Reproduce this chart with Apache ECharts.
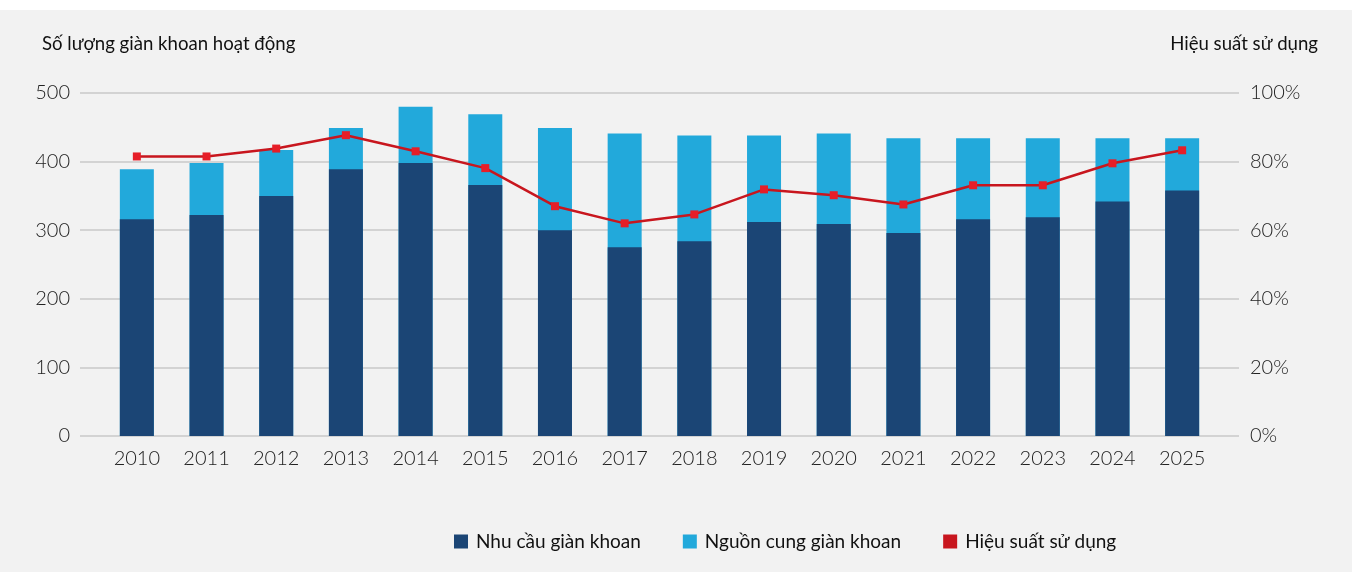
<!DOCTYPE html>
<html>
<head>
<meta charset="utf-8">
<script src="https://cdn.jsdelivr.net/npm/echarts@6/dist/echarts.min.js"></script>
<style>
  html, body { margin: 0; padding: 0; background: #f2f2f2; }
  #chart { width: 1352px; height: 572px; }
</style>
</head>
<body>
<div id="chart"></div>
<script>
// Rig counts (left axis) and utilisation rate (right axis), 2010-2025
const years = ['2010','2011','2012','2013','2014','2015','2016','2017','2018','2019','2020','2021','2022','2023','2024','2025'];
const demand = [316, 322, 350, 389, 398, 366, 300, 275, 284, 312, 309, 296, 316, 319, 342, 358];
const supply = [389, 398, 417, 449, 480, 469, 449, 441, 438, 438, 441, 434, 434, 434, 434, 434];
const utilisation = [81.5, 81.5, 83.8, 87.7, 83.0, 78.1, 67.0, 62.0, 64.6, 71.9, 70.2, 67.5, 73.1, 73.1, 79.5, 83.3];
const countTicks = [0, 100, 200, 300, 400, 500];
const rateTicks = [0, 20, 40, 60, 80, 100];

const FONT = 'Lato, "Noto Sans", sans-serif';
const chart = echarts.init(document.getElementById('chart'), null, { renderer: 'canvas' });

const tickStyle = { fontFamily: FONT, fontSize: 20, fontWeight: 300, color: '#222222' };

chart.setOption({
  backgroundColor: '#f2f2f2',
  animation: false,
  graphic: [
    { type: 'rect', left: 0, top: 0, shape: { width: 1352, height: 10 }, style: { fill: '#ffffff' }, silent: true },
    { type: 'text', left: 42, top: 34, style: { text: 'Số lượng giàn khoan hoạt động', font: '18.6px ' + FONT, fill: '#111111' } },
    { type: 'text', right: 34, top: 34, style: { text: 'Hiệu suất sử dụng', font: '18.6px ' + FONT, fill: '#111111', textAlign: 'right' } }
  ],
  legend: {
    left: 449,
    top: 527,
    itemWidth: 14,
    itemHeight: 14,
    itemGap: 42,
    icon: 'rect',
    textStyle: { fontFamily: FONT, fontSize: 19, color: '#111111', padding: [0, 0, 0, 3] },
    data: [
      { name: 'Nhu cầu giàn khoan', itemStyle: { color: '#1b4575' } },
      { name: 'Nguồn cung giàn khoan', itemStyle: { color: '#22a9db' } },
      { name: 'Hiệu suất sử dụng', itemStyle: { color: '#c8161e' } }
    ]
  },
  grid: [
    { left: 80, right: 113, top: 93, bottom: 136 },
    { left: 102, right: 135, top: 93, bottom: 136 }
  ],
  xAxis: [
    { gridIndex: 0, type: 'category', data: [''], show: false },
    {
      gridIndex: 1, type: 'category', data: years,
      axisLine: { show: false }, axisTick: { show: false },
      axisLabel: Object.assign({ margin: 13 }, tickStyle)
    }
  ],
  yAxis: [
    {
      gridIndex: 0, type: 'value', min: countTicks[0], max: countTicks[countTicks.length - 1], interval: 100,
      position: 'left',
      axisLine: { show: false }, axisTick: { show: false },
      axisLabel: Object.assign({ margin: 10 }, tickStyle),
      splitLine: { lineStyle: { color: '#c8c8c8', width: 1.5 } }
    },
    {
      gridIndex: 0, type: 'value', min: rateTicks[0], max: rateTicks[rateTicks.length - 1], interval: 20,
      position: 'right',
      axisLine: { show: false }, axisTick: { show: false },
      axisLabel: Object.assign({ margin: 11, formatter: '{value}%' }, tickStyle),
      splitLine: { show: false }
    },
    { gridIndex: 1, type: 'value', min: 0, max: 500, show: false, splitLine: { show: false } },
    { gridIndex: 1, type: 'value', min: 0, max: 100, show: false, position: 'right', splitLine: { show: false } }
  ],
  series: [
    {
      name: 'Nguồn cung giàn khoan', type: 'bar', xAxisIndex: 1, yAxisIndex: 2,
      data: supply, barWidth: 34, barGap: '-100%',
      itemStyle: { color: '#22a9db' }
    },
    {
      name: 'Nhu cầu giàn khoan', type: 'bar', xAxisIndex: 1, yAxisIndex: 2,
      data: demand, barWidth: 34, barGap: '-100%',
      itemStyle: { color: '#1b4575' }
    },
    {
      name: 'Hiệu suất sử dụng', type: 'line', xAxisIndex: 1, yAxisIndex: 3,
      data: utilisation, symbol: 'rect', symbolSize: 8, showSymbol: true,
      lineStyle: { color: '#c8161e', width: 2.5 },
      itemStyle: { color: '#e61e28' },
      z: 5
    }
  ]
});
</script>
</body>
</html>
